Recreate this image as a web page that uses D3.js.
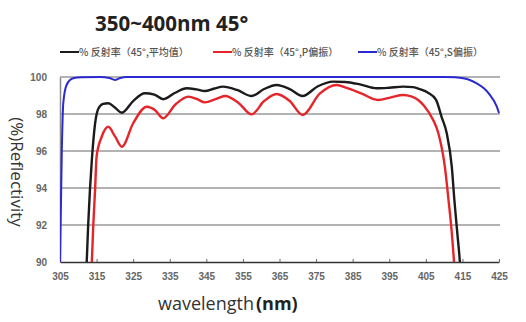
<!DOCTYPE html>
<html>
<head>
<meta charset="utf-8">
<script src="https://cdn.jsdelivr.net/npm/d3@7"></script>
<style>
  html, body { margin: 0; padding: 0; background: #fff; }
  svg { display: block; }
</style>
</head>
<body>
<svg id="chart" width="526" height="322"></svg>
<script>
// Reflectance of the 350~400nm mirror at 45° incidence
const title = "350~400nm 45°";
const seriesNames = ["% 反射率（45°,平均值）", "% 反射率（45°,P偏振）", "% 反射率（45°,S偏振）"];
const seriesColors = ["#1b1b1b", "#e5252a", "#2a2ad0"];
const xTicks = [305, 315, 325, 335, 345, 355, 365, 375, 385, 395, 405, 415, 425];
const yTicks = [90, 92, 94, 96, 98, 100];

// Average (black)
const avgWl = [312.0, 312.3, 312.7, 313.2, 313.7, 314.6, 315.5, 316.8, 318.2, 320.0, 321.9, 325.0, 328.2, 330.8, 333.2, 336.5, 339.6, 342.3, 344.6, 347.2, 349.6, 353.4, 357.4, 360.8, 364.2, 367.8, 371.3, 375.5, 379.6, 382.9, 387.0, 391.6, 395.0, 398.8, 401.5, 403.4, 405.6, 407.8, 409.3, 410.7, 412.1, 412.8, 413.6, 414.3, 414.6];
const avgR  = [89.0, 90.0, 92.0, 93.95, 95.5, 97.5, 98.3, 98.55, 98.58, 98.35, 98.07, 98.7, 99.12, 99.05, 98.8, 99.15, 99.39, 99.33, 99.24, 99.38, 99.48, 99.3, 98.97, 99.35, 99.57, 99.35, 98.97, 99.5, 99.75, 99.73, 99.6, 99.39, 99.42, 99.48, 99.45, 99.34, 99.15, 98.76, 97.85, 96.97, 95.14, 93.35, 91.57, 90.0, 89.0];

// P-polarisation (red)
const pWl = [313.4, 313.7, 314.1, 314.6, 315.0, 316.4, 318.2, 320.0, 321.9, 325.0, 328.7, 331.0, 333.2, 336.5, 340.1, 342.5, 344.6, 347.5, 350.1, 353.8, 357.4, 360.8, 364.2, 367.8, 371.3, 376.0, 380.6, 383.4, 387.5, 391.9, 395.5, 398.8, 401.0, 402.9, 404.5, 407.0, 408.4, 410.2, 411.2, 412.1, 412.7, 413.0];
const pR  = [89.0, 90.0, 92.0, 93.95, 95.7, 96.77, 97.31, 96.8, 96.23, 97.5, 98.39, 98.2, 97.77, 98.5, 98.94, 98.8, 98.63, 98.8, 98.97, 98.6, 97.98, 98.7, 99.08, 98.7, 97.95, 99.1, 99.57, 99.41, 99.1, 98.76, 98.9, 99.03, 98.95, 98.76, 98.45, 97.68, 96.97, 95.14, 93.35, 91.57, 90.0, 89.0];

// S-polarisation (blue)
const sWl = [305.0, 305.5, 305.9, 306.8, 308.6, 311.0, 316.0, 318.5, 320.0, 321.5, 323.2, 340.0, 360.0, 380.0, 400.0, 410.0, 413.0, 415.2, 417.0, 418.9, 420.8, 422.5, 424.4, 425.0];
const sR  = [90.0, 96.05, 98.6, 99.57, 99.93, 99.98, 100.0, 99.95, 99.84, 99.95, 100.0, 100.0, 100.0, 100.0, 100.0, 100.0, 99.98, 99.93, 99.84, 99.66, 99.4, 99.03, 98.4, 98.05];

const series = [
  { name: seriesNames[0], color: seriesColors[0], wl: avgWl, r: avgR },
  { name: seriesNames[1], color: seriesColors[1], wl: pWl, r: pR },
  { name: seriesNames[2], color: seriesColors[2], wl: sWl, r: sR }
];

const svg = d3.select("#chart");
const plot = { left: 60, right: 499, top: 77, bottom: 262 };

const x = d3.scaleLinear().domain([305, 425]).range([plot.left, plot.right]);
const y = d3.scaleLinear().domain([90, 100]).range([plot.bottom, plot.top]);

// Title
svg.append("text")
  .attr("x", 95).attr("y", 31)
  .attr("font-family", "'Open Sans', 'DejaVu Sans', sans-serif")
  .attr("font-size", 20.5).attr("font-weight", 700)
  .attr("fill", "#222")
  .text(title);

// Legend
const legendX = [60, 213, 358];
series.forEach((s, i) => {
  const g = svg.append("g").attr("transform", `translate(${legendX[i]},52)`);
  g.append("line").attr("x1", 0).attr("x2", 19).attr("y1", 0).attr("y2", 0)
    .attr("stroke", s.color).attr("stroke-width", 2);
  g.append("text").attr("x", 19).attr("y", 3.5)
    .attr("font-family", "'Noto Sans CJK SC', 'Noto Sans', sans-serif")
    .attr("font-size", 10).attr("font-weight", 500).attr("fill", "#555")
    .text(s.name);
});

// Horizontal gridlines
svg.append("g").selectAll("line")
  .data(yTicks.filter(v => v > 90))
  .join("line")
  .attr("x1", plot.left).attr("x2", plot.right + 1)
  .attr("y1", d => y(d)).attr("y2", d => y(d))
  .attr("stroke", "#9a9a9a").attr("stroke-width", 1.5);

// Left axis
const yAxis = svg.append("g").attr("transform", `translate(${plot.left},0)`)
  .call(d3.axisLeft(y).tickValues(yTicks).tickSize(0).tickPadding(13).tickFormat(d3.format("d")));
yAxis.select(".domain").attr("stroke", "#8a8a8a").attr("stroke-width", 1.5);
yAxis.selectAll("text")
  .attr("font-family", "'Liberation Sans Narrow', 'Liberation Sans', sans-serif")
  .attr("font-size", 10).attr("font-weight", 700).attr("fill", "#666");

// Bottom axis
const xAxis = svg.append("g").attr("transform", `translate(0,${plot.bottom})`)
  .call(d3.axisBottom(x).tickValues(xTicks).tickSizeInner(-3).tickSizeOuter(0).tickPadding(11).tickFormat(d3.format("d")));
xAxis.select(".domain").attr("stroke", "#333").attr("stroke-width", 1.5);
xAxis.selectAll(".tick line").attr("stroke", "#666");
xAxis.selectAll("text")
  .attr("font-family", "'Liberation Sans Narrow', 'Liberation Sans', sans-serif")
  .attr("font-size", 10).attr("font-weight", 700).attr("fill", "#666");

// Curves, clipped to the plot area
svg.append("clipPath").attr("id", "plotClip")
  .append("rect").attr("x", plot.left).attr("y", plot.top - 6)
  .attr("width", plot.right - plot.left + 4).attr("height", plot.bottom - plot.top + 6);

const line = d3.line()
  .x(d => x(d[0])).y(d => y(d[1]))
  .curve(d3.curveMonotoneX);

const curves = svg.append("g").attr("clip-path", "url(#plotClip)");
[2, 0, 1].forEach(i => {
  const s = series[i];
  curves.append("path")
    .datum(d3.zip(s.wl, s.r))
    .attr("fill", "none")
    .attr("stroke", s.color)
    .attr("stroke-width", i === 2 ? 2 : 2.4)
    .attr("stroke-linejoin", "round")
    .attr("d", line);
});

// Axis titles
svg.append("text")
  .attr("transform", "translate(11,172) rotate(90)")
  .attr("text-anchor", "middle")
  .attr("font-family", "'Open Sans', 'DejaVu Sans', sans-serif")
  .attr("font-size", 17).attr("fill", "#333")
  .text("(%)Reflectivity");

const xt = svg.append("text")
  .attr("x", 158).attr("y", 310)
  .attr("font-family", "'Open Sans', 'DejaVu Sans', sans-serif")
  .attr("font-size", 18).attr("fill", "#333");
xt.append("tspan").text("wavelength");
xt.append("tspan").attr("dx", 2).attr("font-weight", 700).attr("fill", "#222").text("(nm)");
</script>
</body>
</html>
